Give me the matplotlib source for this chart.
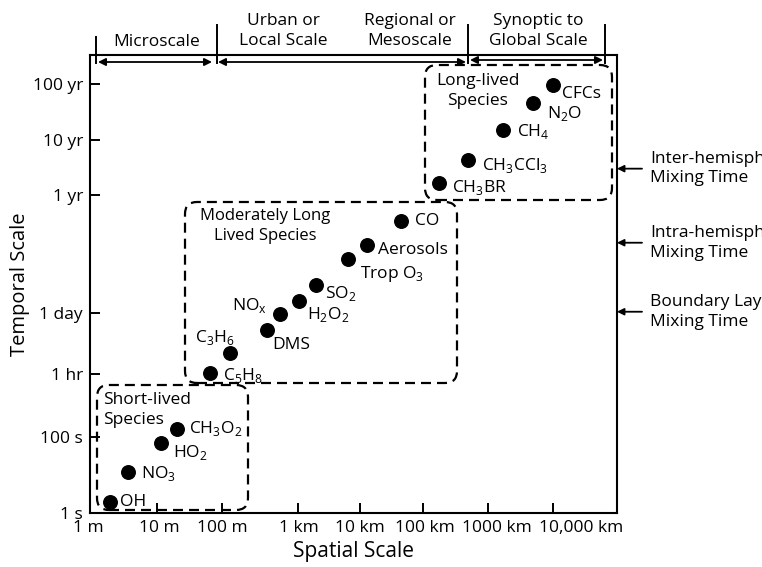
import numpy as np
import matplotlib
matplotlib.use('Agg')
import matplotlib.pyplot as plt
from matplotlib.patches import FancyBboxPatch
from matplotlib.transforms import ScaledTranslation

plt.rcParams['font.family'] = ['Open Sans', 'DejaVu Sans']
plt.rcParams['mathtext.fontset'] = 'custom'
plt.rcParams['mathtext.rm'] = 'Open Sans'
plt.rcParams['font.size'] = 12

# species: spatial scale (m) and lifetime (s)
species = ['OH', r'NO$_\mathregular{3}$', r'HO$_\mathregular{2}$', r'CH$_\mathregular{3}$O$_\mathregular{2}$',
           r'C$_\mathregular{5}$H$_\mathregular{8}$', r'C$_\mathregular{3}$H$_\mathregular{6}$', 'DMS',
           r'NO$_\mathregular{x}$', r'H$_\mathregular{2}$O$_\mathregular{2}$', r'SO$_\mathregular{2}$',
           r'Trop O$_\mathregular{3}$', 'Aerosols', 'CO', 'CFCs', r'N$_\mathregular{2}$O',
           r'CH$_\mathregular{4}$', r'CH$_\mathregular{3}$CCl$_\mathregular{3}$', r'CH$_\mathregular{3}$BR']
spatial_m = [2, 3.7, 11.5, 20, 65, 127, 390, 575, 1040, 1940, 6300, 12800, 45000,
             9.9e6, 5e6, 1.7e6, 5e5, 1.78e5]
lifetime_s = [2, 12, 70, 158, 3700, 10600, 35000, 81000, 158000, 350000, 1.3e6, 2.6e6, 8.5e6,
              3.0e9, 1.43e9, 4.8e8, 1.37e8, 5.2e7]

x_ticks = [1, 10, 100, 1e3, 1e4, 1e5, 1e6, 1e7]
x_labels = ['1 m', '10 m', '100 m', '1 km', '10 km', '100 km', '1000 km', '10,000 km']
YR = 3.156e7
y_ticks = [1, 100, 3600, 86400, YR, 10 * YR, 100 * YR]
y_labels = ['1 s', '100 s', '1 hr', '1 day', '1 yr', '10 yr', '100 yr']

# mixing times marked on the right side
mixing_names = ['Inter-hemispheric\nMixing Time', 'Intra-hemispheric\nMixing Time',
                'Boundary Layer\nMixing Time']
mixing_s = [9.5e7, 2.9e6, 9.2e4]

# label offsets (pixels, from dot) and alignment
lab_off = [(10, 0, 'left'), (13, -2, 'left'), (12, -10, 'left'), (12, 0, 'left'),
           (13, -2, 'left'), (-15, 16, 'center'), (5, -15, 'left'), (-13, 9, 'right'),
           (8, -14, 'left'), (9, -8, 'left'), (12, -15, 'left'), (11, -5, 'left'),
           (14, 0, 'left'), (9, -9, 'left'), (14, -10, 'left'), (14, -2, 'left'),
           (14, -6, 'left'), (13, -4, 'left')]

# the hand drawn axes are not evenly logarithmic: piecewise map of decades
x_dec = [-1, 0, 1, 2, 3, 4, 5, 6, 7, 8, 9]
x_pos = [-67, 0, 67, 132, 208, 270, 333, 398, 463, 527, 591]
y_dec = [-1, 0, 2, np.log10(3600), np.log10(86400), np.log10(YR), np.log10(10 * YR),
         np.log10(100 * YR), 10.5, 11.5]
y_pos = [-38, 0, 76, 139, 200, 318, 373, 429, 485, 541]


def make_scale(dec, pos):
    def fwd(v):
        v = np.asarray(v, dtype=float)
        return np.interp(np.log10(np.maximum(v, 1e-30)), dec, pos)

    def inv(p):
        return 10 ** np.interp(np.asarray(p, dtype=float), pos, dec)
    return fwd, inv


W, H = 762, 567
fig = plt.figure(figsize=(W / 100, H / 100), dpi=100)
ax = fig.add_axes([90 / W, 1 - 513 / H, 527 / W, 458 / H])
ax.set_xscale('function', functions=make_scale(x_dec, x_pos))
ax.set_yscale('function', functions=make_scale(y_dec, y_pos))
ax.set_xlim(1, 1e8)
ax.set_ylim(1, 1.04e10)

ax.scatter(spatial_m, lifetime_s, s=95, color='black', zorder=3)
for name, x, y, (dx, dy, ha) in zip(species, spatial_m, lifetime_s, lab_off):
    ax.annotate(name, (x, y), xytext=(dx, dy), textcoords='offset pixels',
                ha=ha, va='center', fontsize=12.5)

ax.set_xticks(x_ticks)
ax.set_xticklabels(x_labels)
ax.set_yticks(y_ticks)
ax.set_yticklabels(y_labels)
ax.minorticks_off()
ax.tick_params(direction='in', length=7.5, width=1.4, labelsize=12.5, pad=5)
# the last labels sit a little right of their ticks in the original
for lab, dx in zip(ax.get_xticklabels(), [-2, 2, 0, 1, 0, 2, 9, 28]):
    lab.set_transform(lab.get_transform() + ScaledTranslation(dx / 100, 0, fig.dpi_scale_trans))
for s in ax.spines.values():
    s.set_linewidth(1.5)
ax.set_xlabel('Spatial Scale', fontsize=15, labelpad=4)
ax.set_ylabel('Temporal Scale', fontsize=14.5, labelpad=2)


def fp(x, y):
    return (x / W, 1 - y / H)


# dashed rounded boxes (pixel extents: left, top, right, bottom)
boxes = [(97, 385, 248, 510), (185, 202, 457, 383), (425, 65, 612, 200)]
for x0, y0, x1, y1 in boxes:
    ax.add_patch(FancyBboxPatch((x0 / 100, (H - y1) / 100), (x1 - x0) / 100, (y1 - y0) / 100,
                                boxstyle='round,pad=0,rounding_size=0.12',
                                transform=fig.dpi_scale_trans, fill=False, lw=1.6,
                                ls=(0, (4.5, 2.7)), clip_on=False, zorder=2))
fig.text(*fp(103, 410), 'Short-lived\nSpecies', ha='left', va='center', fontsize=12.5,
         linespacing=1.3)
fig.text(*fp(265, 226), 'Moderately Long\nLived Species', ha='center', va='center',
         fontsize=12, linespacing=1.35)
fig.text(*fp(478, 91), 'Long-lived\nSpecies', ha='center', va='center', fontsize=12.5,
         linespacing=1.3)

# scale ranges along the top
arrow_kw = dict(arrowstyle='<|-|>', lw=1.3, color='black', mutation_scale=11,
                shrinkA=0, shrinkB=0)
for xa, xb, yy in [(98, 212, 62), (218, 466, 62), (470, 603, 60)]:
    ax.annotate('', xy=fp(xa, yy), xytext=fp(xb, yy), xycoords='figure fraction',
                textcoords='figure fraction', arrowprops=arrow_kw, annotation_clip=False)
for xx, ya in [(96, 37), (217, 25), (468, 25), (605, 25)]:
    fig.add_artist(plt.Line2D([xx / W, xx / W], [1 - ya / H, 1 - 63 / H], color='black',
                              lw=1.4, transform=fig.transFigure))
fig.text(*fp(157, 42), 'Microscale', ha='center', va='center', fontsize=12.5)
for xx, txt in [(283, 'Urban or\nLocal Scale'), (410, 'Regional or\nMesoscale'),
                (538, 'Synoptic to\nGlobal Scale')]:
    fig.text(*fp(xx, 31), txt, ha='center', va='center', fontsize=12.5, linespacing=1.3)

# mixing time arrows on the right (text runs off the page as in the original)
for name, t in zip(mixing_names, mixing_s):
    ax.annotate('', xy=(1e8, t), xytext=(25, 0), textcoords='offset pixels',
                arrowprops=dict(arrowstyle='-|>', lw=1.3, color='black', mutation_scale=10,
                                shrinkA=0, shrinkB=0), annotation_clip=False)
    ax.annotate(name, xy=(1e8, t), xytext=(33, 0), textcoords='offset pixels',
                ha='left', va='center', fontsize=12.5, linespacing=1.3,
                annotation_clip=False)

fig.savefig('out.png', dpi=100)
